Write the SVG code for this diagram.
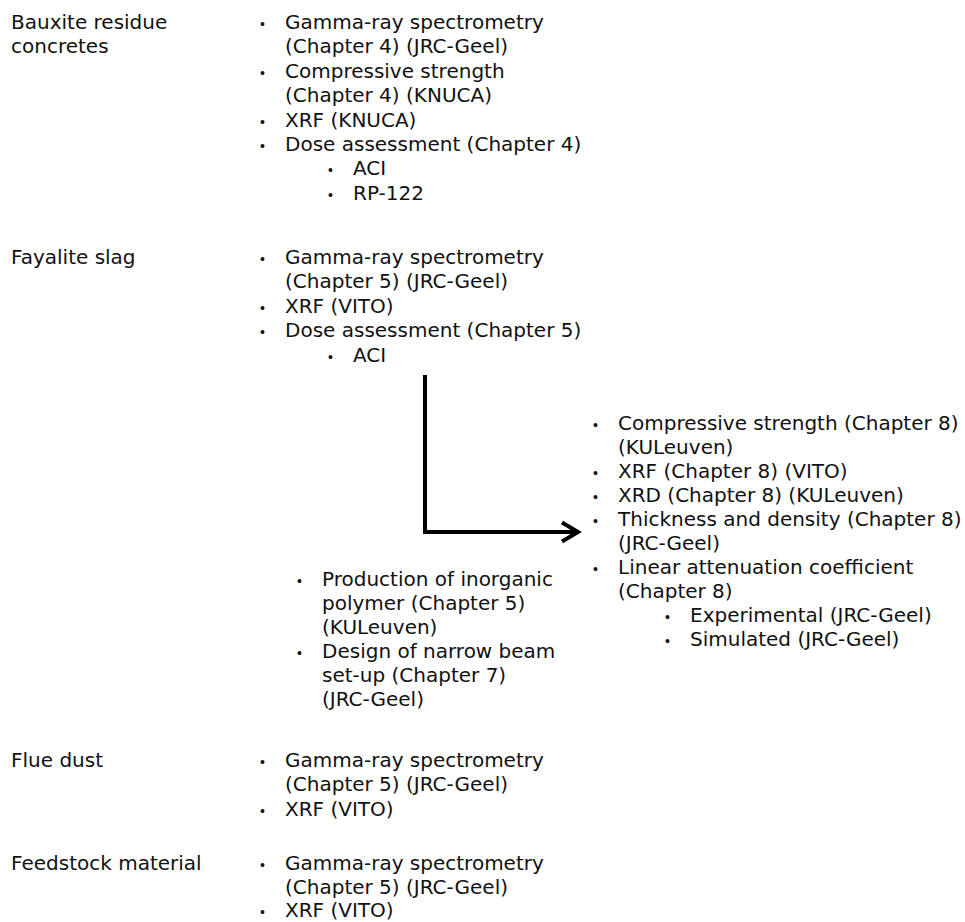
<svg xmlns="http://www.w3.org/2000/svg" width="965" height="922" viewBox="0 0 965 922">
<style>
text{font-family:"DejaVu Sans","Verdana",sans-serif;font-size:20px;fill:#111}
.b{font-family:"Liberation Sans",Arial,sans-serif;font-size:14px}
.conn{fill:none;stroke:#000;stroke-width:4;stroke-linejoin:miter;stroke-linecap:butt}
</style>
<rect width="965" height="922" fill="#fff"/>

<g id="bauxite-label">
<text x="11" y="29">Bauxite residue</text>
<text x="11" y="53.4">concretes</text>
</g>
<g id="bauxite-list">
<text class="b" x="260" y="29">•</text><text x="285" y="29">Gamma-ray spectrometry</text>
<text x="285" y="53.4">(Chapter 4) (JRC-Geel)</text>
<text class="b" x="260" y="77.8">•</text><text x="285" y="77.8">Compressive strength</text>
<text x="285" y="102.2">(Chapter 4) (KNUCA)</text>
<text class="b" x="260" y="126.6">•</text><text x="285" y="126.6">XRF (KNUCA)</text>
<text class="b" x="260" y="151">•</text><text x="285" y="151">Dose assessment (Chapter 4)</text>
<text class="b" x="328" y="175.4">•</text><text x="353" y="175.4">ACI</text>
<text class="b" x="328" y="199.8">•</text><text x="353" y="199.8">RP-122</text>
</g>

<g id="fayalite-label">
<text x="11" y="264">Fayalite slag</text>
</g>
<g id="fayalite-list">
<text class="b" x="260" y="264">•</text><text x="285" y="264">Gamma-ray spectrometry</text>
<text x="285" y="288.4">(Chapter 5) (JRC-Geel)</text>
<text class="b" x="260" y="312.8">•</text><text x="285" y="312.8">XRF (VITO)</text>
<text class="b" x="260" y="337.2">•</text><text x="285" y="337.2">Dose assessment (Chapter 5)</text>
<text class="b" x="328" y="361.6">•</text><text x="353" y="361.6">ACI</text>
</g>

<g id="polymer-list">
<text class="b" x="297" y="586">•</text><text x="322" y="586">Production of inorganic</text>
<text x="322" y="610">polymer (Chapter 5)</text>
<text x="322" y="634">(KULeuven)</text>
<text class="b" x="297" y="658">•</text><text x="322" y="658">Design of narrow beam</text>
<text x="322" y="682">set-up (Chapter 7)</text>
<text x="322" y="706">(JRC-Geel)</text>
</g>

<g id="polymer-tests">
<text class="b" x="593" y="430">•</text><text x="618" y="430">Compressive strength (Chapter 8)</text>
<text x="618" y="454">(KULeuven)</text>
<text class="b" x="593" y="478">•</text><text x="618" y="478">XRF (Chapter 8) (VITO)</text>
<text class="b" x="593" y="502">•</text><text x="618" y="502">XRD (Chapter 8) (KULeuven)</text>
<text class="b" x="593" y="526">•</text><text x="618" y="526">Thickness and density (Chapter 8)</text>
<text x="618" y="550">(JRC-Geel)</text>
<text class="b" x="593" y="574">•</text><text x="618" y="574">Linear attenuation coefficient</text>
<text x="618" y="598">(Chapter 8)</text>
<text class="b" x="665" y="622">•</text><text x="690" y="622">Experimental (JRC-Geel)</text>
<text class="b" x="665" y="646">•</text><text x="690" y="646">Simulated (JRC-Geel)</text>
</g>

<g id="fluedust-label">
<text x="11" y="767">Flue dust</text>
</g>
<g id="fluedust-list">
<text class="b" x="260" y="767">•</text><text x="285" y="767">Gamma-ray spectrometry</text>
<text x="285" y="791.4">(Chapter 5) (JRC-Geel)</text>
<text class="b" x="260" y="815.8">•</text><text x="285" y="815.8">XRF (VITO)</text>
</g>

<g id="feedstock-label">
<text x="11" y="870">Feedstock material</text>
</g>
<g id="feedstock-list">
<text class="b" x="260" y="870">•</text><text x="285" y="870">Gamma-ray spectrometry</text>
<text x="285" y="894">(Chapter 5) (JRC-Geel)</text>
<text class="b" x="260" y="917">•</text><text x="285" y="917">XRF (VITO)</text>
</g>

<g id="connectors">
<polyline class="conn" points="425,375 425,532 577,532"/>
<polyline class="conn" points="562,522.5 578,532 562,541.5"/>
</g>
</svg>
